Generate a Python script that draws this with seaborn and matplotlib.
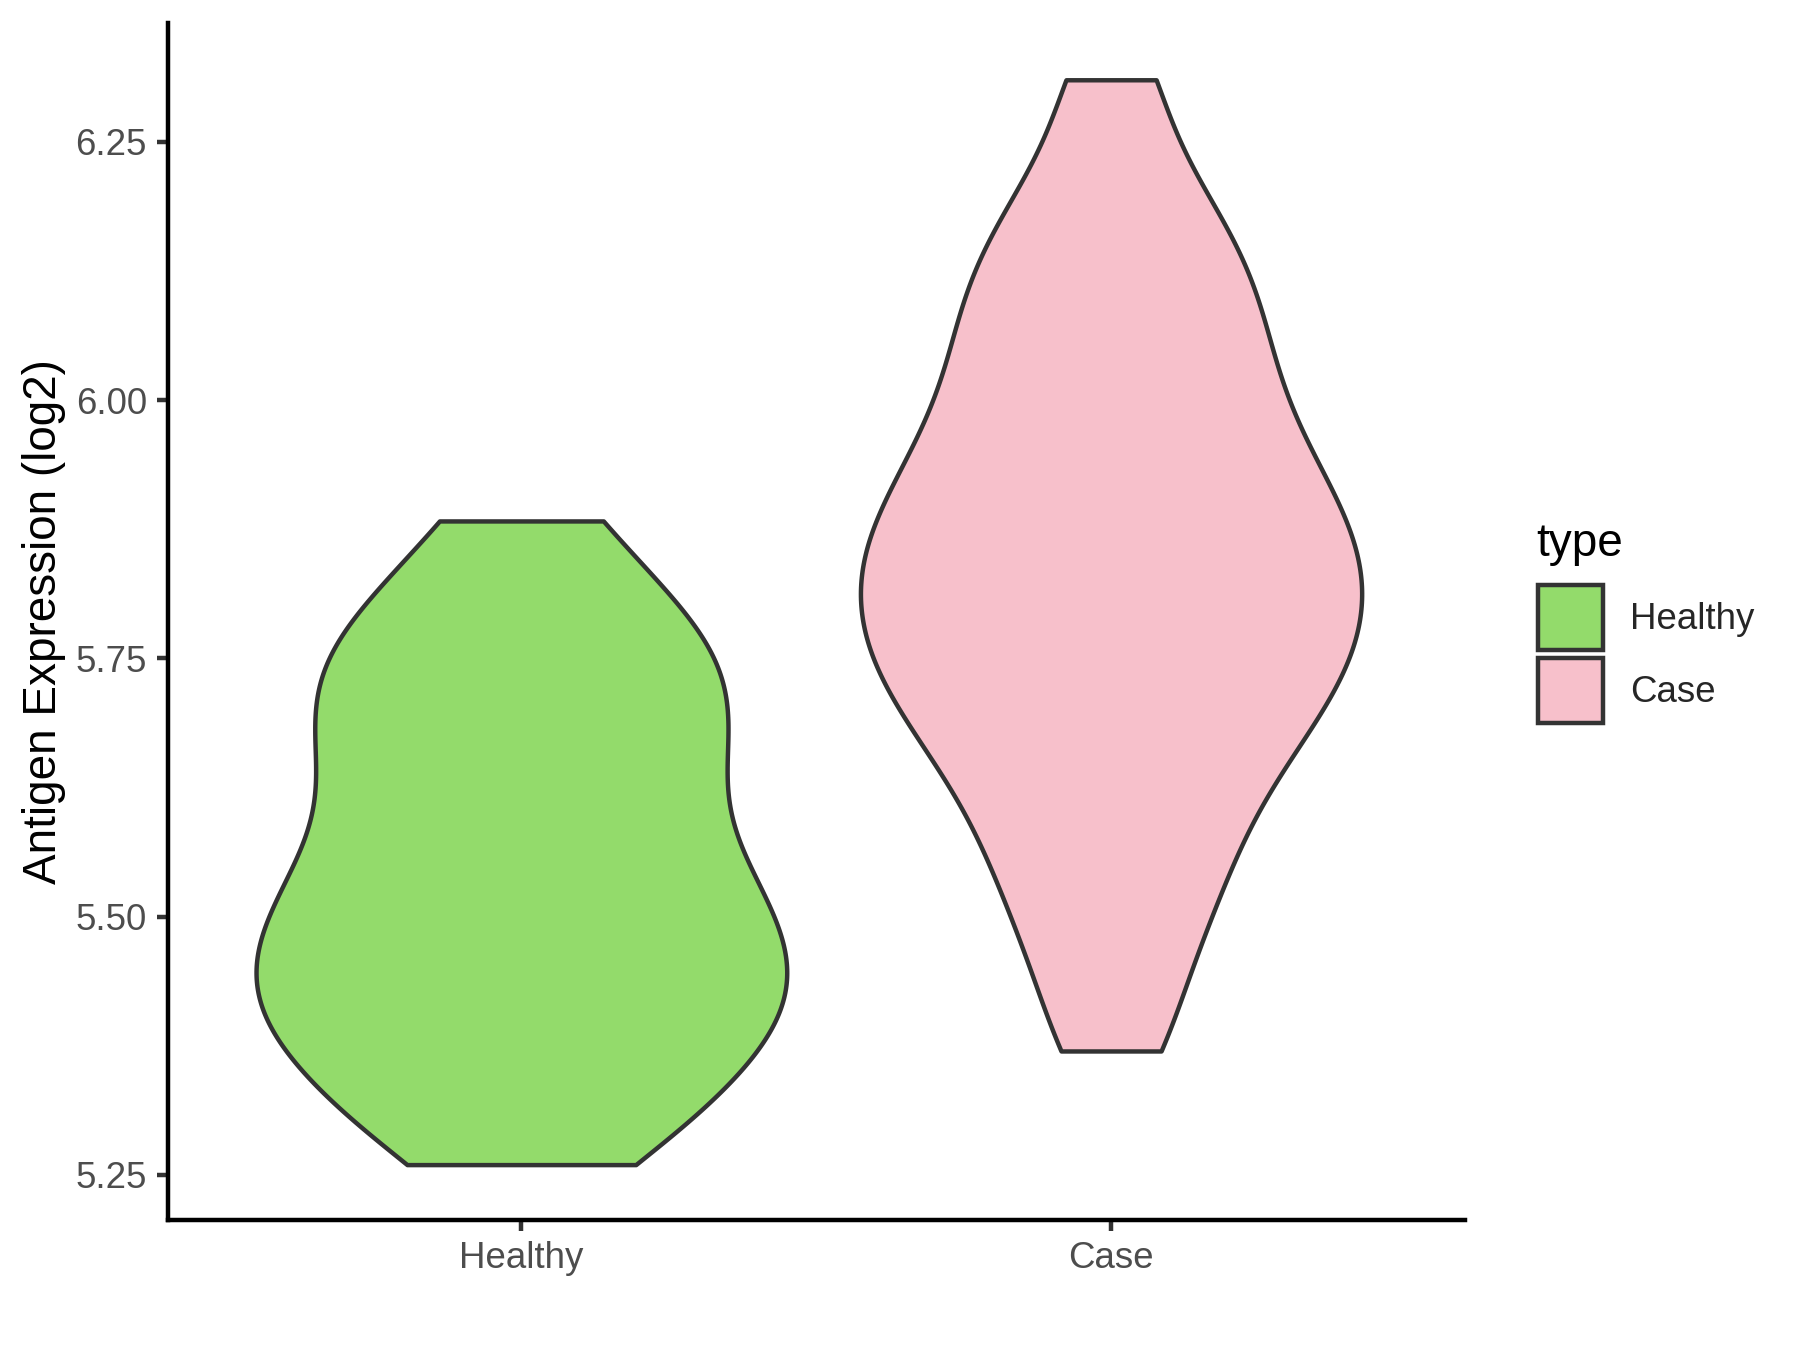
import numpy as np
import pandas as pd
import matplotlib
matplotlib.use("Agg")
import matplotlib.pyplot as plt
from matplotlib.patches import Patch
import seaborn as sns

# ---- data ----
categories = ["Healthy", "Case"]
healthy_values = [5.26, 5.30, 5.335, 5.365, 5.39, 5.412, 5.434, 5.456, 5.48,
                  5.505, 5.53, 5.557, 5.59, 5.63, 5.66, 5.69, 5.72, 5.75,
                  5.78, 5.815, 5.883]
case_values = [5.37, 5.445, 5.50, 5.545, 5.58, 5.62, 5.648, 5.675, 5.698,
               5.72, 5.739, 5.759, 5.778, 5.796, 5.814, 5.833, 5.851, 5.87,
               5.889, 5.91, 5.932, 5.955, 5.983, 6.011, 6.041, 6.072, 6.102,
               6.136, 6.17, 6.22, 6.31]
fill_colors = ["#93DB6B", "#F7C0CB"]
y_ticks = [5.25, 5.50, 5.75, 6.00, 6.25]
y_label = "Antigen Expression (log2)"
legend_title = "type"

df = pd.DataFrame({
    "type": ["Healthy"] * len(healthy_values) + ["Case"] * len(case_values),
    "value": healthy_values + case_values,
})

sns.set_style("white")
plt.rcParams["font.family"] = ["Liberation Sans", "DejaVu Sans"]

fig = plt.figure(figsize=(6, 4.5), dpi=300)
ax = fig.add_axes([0.0931, 0.096, 0.7207, 0.887])

palette = dict(zip(categories, fill_colors))
lw = 1.07
bw_adjusts = {"Healthy": 0.67, "Case": 0.55}
widths = {"Healthy": 0.9, "Case": 0.85}
for cat in categories:
    sns.violinplot(data=df[df["type"] == cat], x="type", y="value", hue="type",
                   order=categories, hue_order=categories, palette=palette,
                   cut=0, density_norm="width", width=widths[cat], inner=None,
                   linewidth=lw, linecolor="#333333", saturation=1,
                   bw_method="scott", bw_adjust=bw_adjusts[cat], gridsize=300,
                   legend=False, ax=ax)

ax.set_xlim(-0.6, 1.6)
ax.set_ylim(5.206, 6.365)
ax.set_yticks(y_ticks)
ax.set_yticklabels([f"{v:.2f}" for v in y_ticks])
ax.set_xlabel("")
ax.set_ylabel(y_label, fontsize=11, color="black", labelpad=2.2)

for side in ["top", "right"]:
    ax.spines[side].set_visible(False)
for side in ["left", "bottom"]:
    ax.spines[side].set_color("black")
    ax.spines[side].set_linewidth(lw)
ax.tick_params(axis="both", which="major", length=2.75, width=lw,
               color="#333333", labelcolor="#4D4D4D", labelsize=8.8,
               pad=2.2, direction="out", left=True, bottom=True)

handles = [Patch(facecolor=c, edgecolor="#333333", linewidth=lw, label=n)
           for n, c in zip(categories, fill_colors)]
fig.text(0.8533, 0.5884, legend_title, fontsize=11, color="black",
         ha="left", va="baseline")
leg = fig.legend(handles=handles, loc="upper left",
                 bbox_to_anchor=(0.8546, 0.5663), frameon=False, fontsize=8.8,
                 handlelength=1.77, handleheight=2.35,
                 labelspacing=0.2, handletextpad=0.725, borderpad=0,
                 borderaxespad=0)

fig.savefig("out.png", dpi=300, facecolor="white")
